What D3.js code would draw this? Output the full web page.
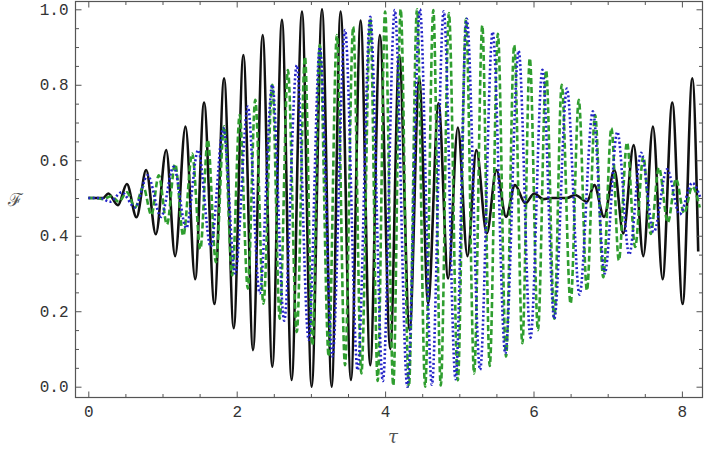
<!DOCTYPE html>
<html>
<head>
<meta charset="utf-8">
<title>F vs tau</title>
<script src="https://cdnjs.cloudflare.com/ajax/libs/d3/7.8.5/d3.min.js"></script>
<style>
  body { margin: 0; background: #fff; }
</style>
</head>
<body>
<script>
// turning points: tau positions and F values
var blackTau = [0, 0.2, 0.27, 0.40, 0.52, 0.65, 0.78, 0.91, 1.05, 1.17, 1.31, 1.44, 1.56, 1.70, 1.83, 1.96,
  2.09, 2.22, 2.35, 2.48, 2.61, 2.74, 2.88, 3.01, 3.15, 3.28, 3.40, 3.54, 3.67, 3.80, 3.93, 4.07,
  4.19, 4.33, 4.46, 4.58, 4.72, 4.85, 4.98, 5.11, 5.23, 5.37, 5.50, 5.63, 5.75, 5.89, 6.01, 6.13,
  6.25, 6.45, 6.56, 6.72, 6.82, 6.95, 7.09, 7.21, 7.35, 7.48, 7.61, 7.74, 7.87, 8.01, 8.14, 8.22];
var blackF = [0.5, 0.5, 0.512, 0.481, 0.537, 0.449, 0.574, 0.404, 0.627, 0.346, 0.689, 0.285, 0.753, 0.219, 0.817, 0.155,
  0.879, 0.097, 0.932, 0.053, 0.972, 0.018, 0.994, 0.0, 1.0, 0.0, 0.994, 0.018, 0.97, 0.057, 0.932, 0.10,
  0.879, 0.15, 0.817, 0.221, 0.751, 0.287, 0.687, 0.346, 0.627, 0.406, 0.574, 0.45, 0.534, 0.486, 0.512, 0.497,
  0.5, 0.5, 0.508, 0.49, 0.534, 0.45, 0.574, 0.406, 0.64, 0.346, 0.689, 0.285, 0.753, 0.219, 0.817, 0.358];

var greenTau = [0, 0.10, 0.20, 0.31, 0.41, 0.52, 0.63, 0.74, 0.85, 0.95,
  1.06, 1.17, 1.28, 1.40, 1.51, 1.61, 1.72, 1.83, 1.94, 2.04,
  2.15, 2.25, 2.36, 2.48, 2.58, 2.69, 2.81, 2.92, 3.02, 3.12,
  3.24, 3.35, 3.46, 3.57, 3.68, 3.80, 3.90, 4.00, 4.11, 4.21,
  4.32, 4.43, 4.54, 4.65, 4.75, 4.86, 4.98, 5.09, 5.20, 5.31,
  5.41, 5.52, 5.63, 5.74, 5.85, 5.95, 6.06, 6.17, 6.28, 6.38,
  6.50, 6.61, 6.72, 6.83, 6.94, 7.05, 7.15, 7.26, 7.37, 7.48,
  7.58, 7.69, 7.81, 7.92, 8.03, 8.14, 8.24];
var greenF = [0.5, 0.5, 0.497, 0.505, 0.49, 0.515, 0.475, 0.53, 0.455, 0.56,
  0.43, 0.59, 0.40, 0.618, 0.365, 0.654, 0.33, 0.69, 0.295, 0.72,
  0.26, 0.76, 0.22, 0.80, 0.18, 0.839, 0.145, 0.874, 0.11, 0.905,
  0.08, 0.932, 0.057, 0.954, 0.035, 0.975, 0.015, 0.994, 0.003, 1.0,
  0.0, 1.0, 0.0, 0.998, 0.003, 0.99, 0.017, 0.975, 0.035, 0.957,
  0.055, 0.935, 0.08, 0.905, 0.115, 0.87, 0.15, 0.838, 0.18, 0.80,
  0.22, 0.76, 0.255, 0.72, 0.29, 0.685, 0.335, 0.647, 0.37, 0.61,
  0.405, 0.58, 0.435, 0.55, 0.46, 0.53, 0.475];

var blueTau = [0, 0.16, 0.29, 0.45, 0.63, 0.80, 0.98, 1.15, 1.32, 1.48, 1.65, 1.82,
  1.98, 2.15, 2.31, 2.48, 2.64, 2.81, 2.97, 3.12, 3.29, 3.46,
  3.63, 3.80, 3.97, 4.13, 4.30, 4.47, 4.63, 4.79, 4.95, 5.10,
  5.28, 5.45, 5.62, 5.80, 5.96, 6.12, 6.28, 6.45, 6.62, 6.80,
  6.96, 7.13, 7.29, 7.45, 7.62, 7.80, 7.97, 8.14, 8.25];
var blueF = [0.5, 0.5, 0.49, 0.515, 0.475, 0.56, 0.45, 0.583, 0.42, 0.627, 0.371, 0.685,
  0.30, 0.742, 0.247, 0.80, 0.175, 0.852, 0.124, 0.90, 0.08, 0.945,
  0.044, 0.98, 0.015, 0.998, 0.0, 1.0, 0.005, 0.995, 0.02, 0.975,
  0.045, 0.94, 0.088, 0.89, 0.13, 0.84, 0.18, 0.79, 0.244, 0.73,
  0.30, 0.675, 0.35, 0.62, 0.41, 0.576, 0.457, 0.54, 0.5];

var xMajor = [0, 2, 4, 6, 8];
var xMinor = [0.5, 1, 1.5, 2.5, 3, 3.5, 4.5, 5, 5.5, 6.5, 7, 7.5];
var yMajor = [0, 0.2, 0.4, 0.6, 0.8, 1.0];
var yMinor = [0.05, 0.1, 0.15, 0.25, 0.3, 0.35, 0.45, 0.5, 0.55, 0.65, 0.7, 0.75, 0.85, 0.9, 0.95];

var W = 704, H = 449;
var fl = 75.5, fr = 702.5, ft = 1.5, fb = 397.5;

var x = d3.scaleLinear().domain([0, 8]).range([88.3, 681.9]);
var y = d3.scaleLinear().domain([0, 1]).range([386.7, 9.3]);

var svg = d3.select("body").append("svg")
    .attr("width", W)
    .attr("height", H);

svg.append("defs").append("clipPath").attr("id", "clip")
    .append("rect")
    .attr("x", fl).attr("y", ft)
    .attr("width", fr - fl).attr("height", fb - ft);

function curvePoints(ts, fs) {
  return ts.map(function(t, i) { return [t, fs[i]]; });
}

var line = d3.line()
    .x(function(d) { return x(d[0]); })
    .y(function(d) { return y(d[1]); })
    .curve(d3.curveMonotoneX);

var plot = svg.append("g").attr("clip-path", "url(#clip)");

plot.append("path")
    .attr("d", line(curvePoints(blackTau, blackF)))
    .attr("fill", "none")
    .attr("stroke", "#111")
    .attr("stroke-width", 2.6);

plot.append("path")
    .attr("d", line(curvePoints(greenTau, greenF)))
    .attr("fill", "none")
    .attr("stroke", "#2f9e2f")
    .attr("stroke-width", 2.6)
    .attr("stroke-dasharray", "6,3");

plot.append("path")
    .attr("d", line(curvePoints(blueTau, blueF)))
    .attr("fill", "none")
    .attr("stroke", "#2424c8")
    .attr("stroke-width", 2.6)
    .attr("stroke-dasharray", "2,2.4");

// frame and inward ticks on all four sides
function styleAxis(g) {
  g.select(".domain").remove();
  g.selectAll("line").attr("stroke", "#555");
  g.selectAll("text")
      .attr("fill", "#333")
      .style("font-family", "'Liberation Mono', 'DejaVu Sans Mono', monospace")
      .style("font-size", "16px");
}

svg.append("g").attr("transform", "translate(0," + fb + ")")
    .call(d3.axisBottom(x).tickValues(xMajor).tickSize(-6).tickPadding(8).tickFormat(d3.format("d")))
    .call(styleAxis);
svg.append("g").attr("transform", "translate(0," + fb + ")")
    .call(d3.axisBottom(x).tickValues(xMinor).tickSize(-3.5).tickFormat(""))
    .call(styleAxis);
svg.append("g").attr("transform", "translate(0," + ft + ")")
    .call(d3.axisTop(x).tickValues(xMajor).tickSize(-6).tickFormat(""))
    .call(styleAxis);
svg.append("g").attr("transform", "translate(0," + ft + ")")
    .call(d3.axisTop(x).tickValues(xMinor).tickSize(-3.5).tickFormat(""))
    .call(styleAxis);

svg.append("g").attr("transform", "translate(" + fl + ",0)")
    .call(d3.axisLeft(y).tickValues(yMajor).tickSize(-6).tickPadding(7).tickFormat(d3.format(".1f")))
    .call(styleAxis);
svg.append("g").attr("transform", "translate(" + fl + ",0)")
    .call(d3.axisLeft(y).tickValues(yMinor).tickSize(-3.5).tickFormat(""))
    .call(styleAxis);
svg.append("g").attr("transform", "translate(" + fr + ",0)")
    .call(d3.axisRight(y).tickValues(yMajor).tickSize(-6).tickFormat(""))
    .call(styleAxis);
svg.append("g").attr("transform", "translate(" + fr + ",0)")
    .call(d3.axisRight(y).tickValues(yMinor).tickSize(-3.5).tickFormat(""))
    .call(styleAxis);

svg.append("rect")
    .attr("x", fl).attr("y", ft)
    .attr("width", fr - fl).attr("height", fb - ft)
    .attr("fill", "none")
    .attr("stroke", "#555")
    .attr("stroke-width", 1.2);

svg.append("text")
    .attr("x", 393).attr("y", 443)
    .attr("text-anchor", "middle")
    .attr("fill", "#555")
    .style("font-family", "'DejaVu Serif', serif")
    .style("font-style", "italic")
    .style("font-size", "18px")
    .text("τ");

svg.append("text")
    .attr("x", 15).attr("y", 206)
    .attr("text-anchor", "middle")
    .attr("fill", "#555")
    .style("font-family", "'DejaVu Serif', serif")
    .style("font-size", "18px")
    .text("ℱ");
</script>
</body>
</html>
